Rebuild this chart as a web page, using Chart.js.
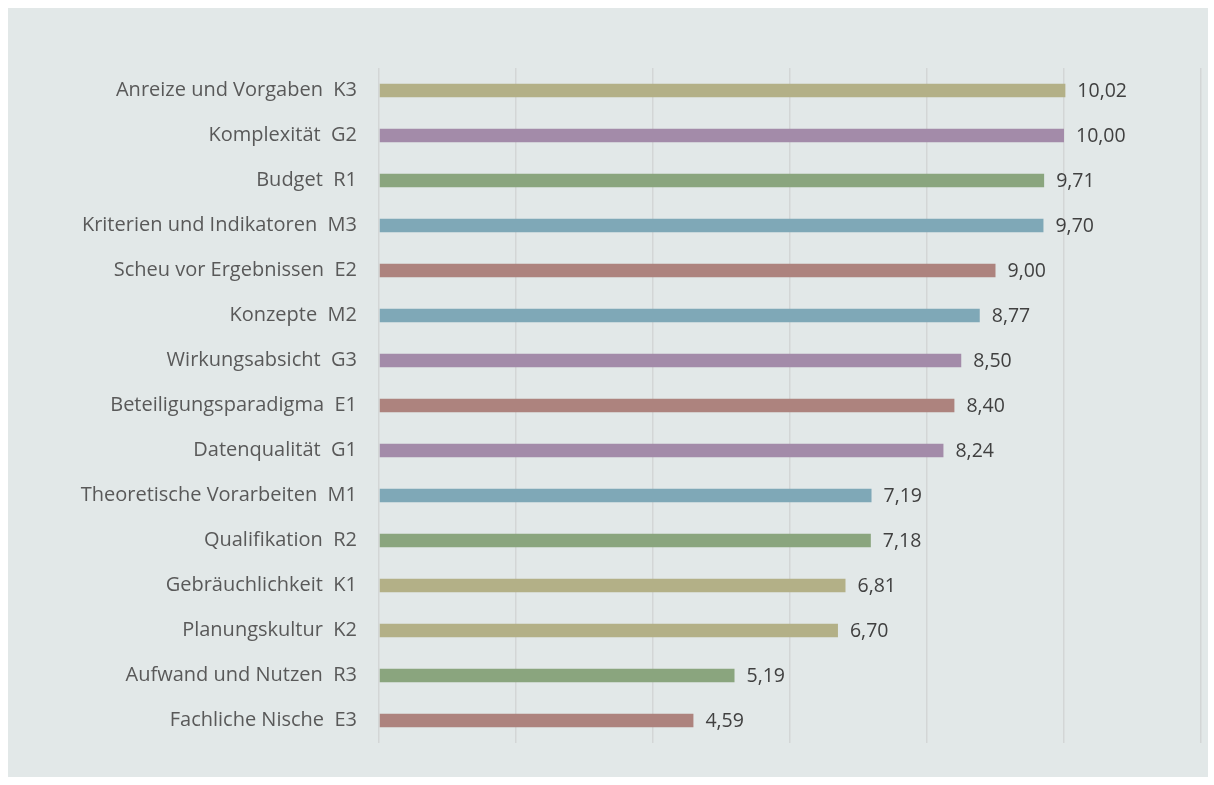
<!DOCTYPE html>
<html>
<head>
<meta charset="utf-8">
<script src="https://cdn.jsdelivr.net/npm/chart.js@4/dist/chart.umd.min.js"></script>
<style>
  html, body { margin: 0; padding: 0; background: #ffffff; }
  #wrap { position: absolute; left: 8px; top: 8px; width: 1200px; height: 769px; background: #e2e8e8; }
  canvas { display: block; }
</style>
</head>
<body>
<div id="wrap"><canvas id="c" width="1200" height="769"></canvas></div>
<script>
const categories = [
  "Anreize und Vorgaben  K3",
  "Komplexität  G2",
  "Budget  R1",
  "Kriterien und Indikatoren  M3",
  "Scheu vor Ergebnissen  E2",
  "Konzepte  M2",
  "Wirkungsabsicht  G3",
  "Beteiligungsparadigma  E1",
  "Datenqualität  G1",
  "Theoretische Vorarbeiten  M1",
  "Qualifikation  R2",
  "Gebräuchlichkeit  K1",
  "Planungskultur  K2",
  "Aufwand und Nutzen  R3",
  "Fachliche Nische  E3"
];
const values = [10.02, 10.00, 9.71, 9.70, 9.00, 8.77, 8.50, 8.40, 8.24, 7.19, 7.18, 6.81, 6.70, 5.19, 4.59];
const groups = ["K", "G", "R", "M", "E", "M", "G", "E", "G", "M", "R", "K", "K", "R", "E"];
const groupColors = { K: "#b3b087", G: "#a38ba9", R: "#8aa57e", M: "#7fa8b7", E: "#ad837e" };
const xTicks = [0, 2, 4, 6, 8, 10, 12];

const FONT = "'Open Sans', Lato, sans-serif";

const valueLabels = {
  id: 'valueLabels',
  afterDatasetsDraw(chart) {
    const ctx = chart.ctx;
    const meta = chart.getDatasetMeta(0);
    ctx.save();
    ctx.font = "19.5px " + FONT;
    ctx.fillStyle = "#404040";
    ctx.textAlign = "left";
    ctx.textBaseline = "middle";
    meta.data.forEach((bar, i) => {
      const txt = values[i].toFixed(2).replace('.', ',');
      ctx.fillText(txt, bar.x + 12, bar.y + 1);
    });
    ctx.restore();
  }
};

new Chart(document.getElementById('c'), {
  type: 'bar',
  data: {
    labels: categories,
    datasets: [{
      data: values,
      backgroundColor: groups.map(g => groupColors[g]),
      borderWidth: 0,
      categoryPercentage: 1,
      barPercentage: 0.3
    }]
  },
  options: {
    indexAxis: 'y',
    responsive: false,
    animation: false,
    layout: { padding: { left: 0, right: 7, top: 60, bottom: 32 } },
    plugins: { legend: { display: false }, tooltip: { enabled: false } },
    scales: {
      x: {
        min: xTicks[0],
        max: xTicks[xTicks.length - 1],
        afterBuildTicks: (s) => { s.ticks = xTicks.map(v => ({ value: v })); },
        ticks: { display: false },
        grid: { display: true, color: "#d3d6d6", lineWidth: 1.5, drawTicks: false },
        border: { display: false }
      },
      y: {
        afterFit: (s) => { s.width = 371; },
        ticks: { color: "#595959", font: { family: FONT, size: 20 }, padding: 22 },
        grid: { display: false, drawTicks: false },
        border: { display: false }
      }
    }
  },
  plugins: [valueLabels]
});
</script>
</body>
</html>
